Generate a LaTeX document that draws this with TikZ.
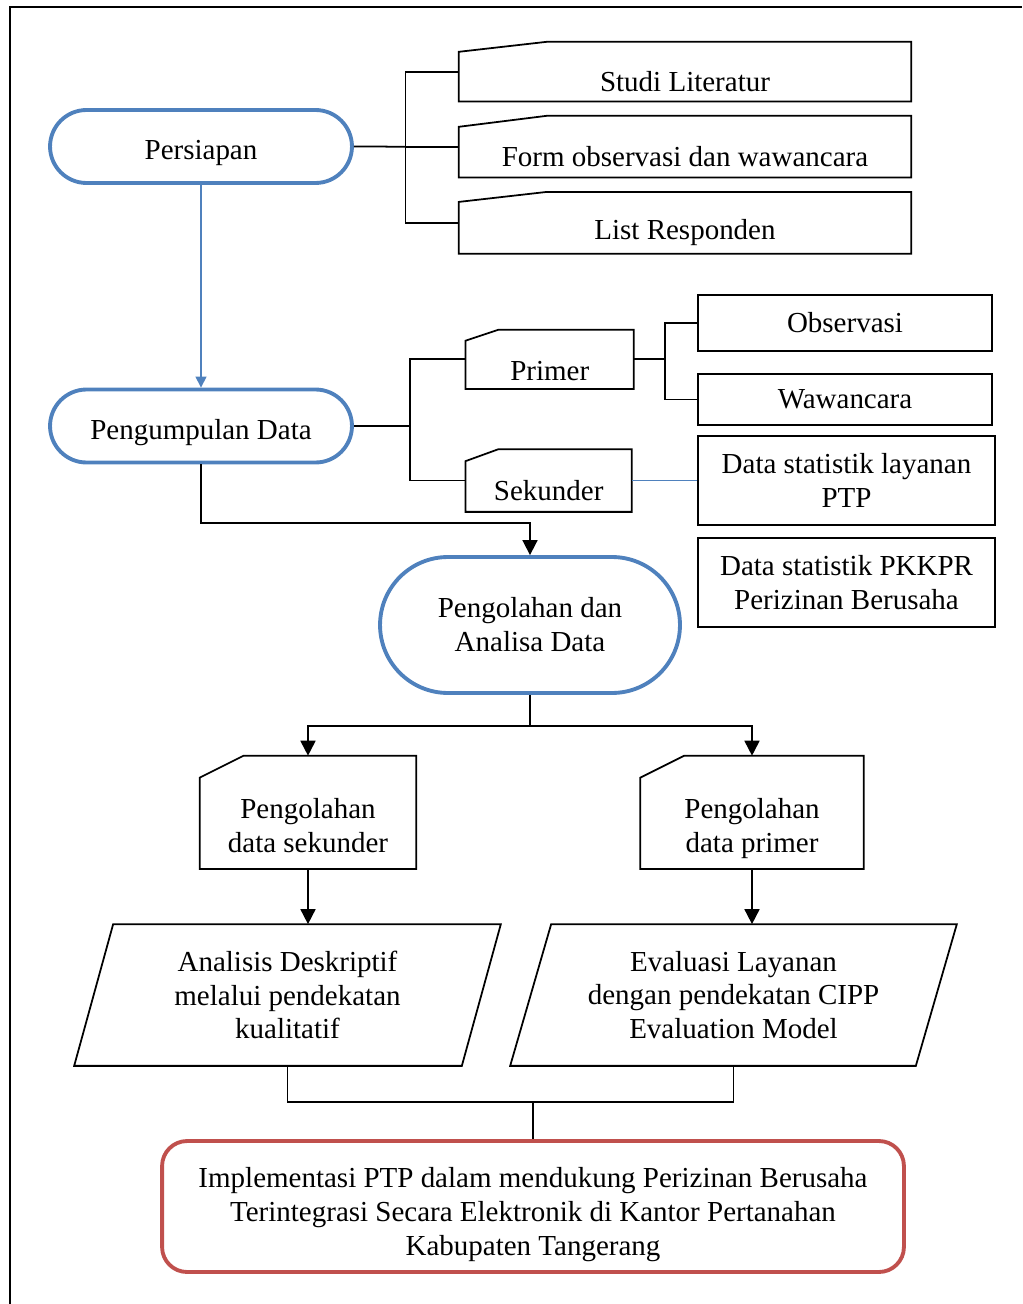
\documentclass[tikz,border=0pt]{standalone}
\usepackage{fontspec}
\setmainfont{Liberation Serif}
\usetikzlibrary{arrows.meta,calc}

\definecolor{ofblue}{HTML}{4F81BD}
\definecolor{ofred}{HTML}{C0504D}

% manual input outline: node, slant dx, drop dy (px)
\newcommand{\maninput}[3]{\draw (#1.south west) -- ($(#1.north west)+(0,#3)$) -- ($(#1.north west)+(#2,0)$) -- (#1.north east) -- (#1.south east) -- cycle;}
% parallelogram outline: node, slant dx (px)
\newcommand{\paragram}[2]{\draw (#1.south west) -- ($(#1.north west)+(#2,0)$) -- (#1.north east) -- ($(#1.south east)+(-#2,0)$) -- cycle;}

\tikzset{
  terminal/.style={draw=ofblue, line width=2.2pt, align=center, rounded corners=#1},
  inbox/.style={inner sep=0pt},
  plainbox/.style={draw, line width=1pt, align=center},
  finalbox/.style={draw=ofred, line width=2.2pt, rounded corners=0.5cm, align=center}
}

\begin{document}
\begin{tikzpicture}[x=0.02cm, y=-0.02cm, >={Triangle[length=3mm,width=3mm]},
    line width=1pt, font=\fontsize{16.5}{19.3}\selectfont]
  \useasboundingbox (0,0) rectangle (1022,1304);
  \draw (10,1304) -- (10,7) -- (1022,7);

  % preparation
  \node[terminal=0.73cm, minimum width=6.04cm, minimum height=1.46cm,
    text height=18.6pt] (persiapan) at (201,146.5) {Persiapan};
  \node[inbox, minimum width=9.02cm, minimum height=1.16cm,
    label={[yshift=-5.7pt]center:Studi Literatur}] (studi) at (685,71.7) {};
  \node[inbox, minimum width=9.02cm, minimum height=1.2cm,
    label={[yshift=-5.7pt]center:Form observasi dan wawancara}] (form) at (685,146.7) {};
  \node[inbox, minimum width=9.02cm, minimum height=1.2cm,
    label={[yshift=-5.7pt]center:List Responden}] (list) at (685,222.8) {};
  \maninput{studi}{88}{10}
  \maninput{form}{88}{11}
  \maninput{list}{88}{10}
  \coordinate (b1) at (405.5,146.7);
  \draw (persiapan.east) -- (b1);
  \draw (studi.west) -| (b1) |- (list.west);
  \draw (b1) -- (form.west);

  % data collection
  \node[terminal=0.73cm, minimum width=6.04cm, minimum height=1.46cm,
    text height=18.6pt] (kumpul) at (201,426) {Pengumpulan Data};
  \draw[->, ofblue, line width=0.8pt, >={Triangle[length=2.2mm,width=2.2mm]}] (persiapan.south) -- (kumpul.north);
  \node[inbox, minimum width=3.33cm, minimum height=1.15cm,
    label={[yshift=-6.5pt]center:Primer}] (primer) at (549.7,359.3) {};
  \node[inbox, minimum width=3.29cm, minimum height=1.22cm,
    label={[yshift=-5.7pt]center:Sekunder}] (sekunder) at (548.7,480.5) {};
  \maninput{primer}{33}{11}
  \maninput{sekunder}{33}{12}
  \coordinate (b2) at (410,426);
  \draw (kumpul.east) -- (b2);
  \draw (primer.west) -| (b2) |- (sekunder.west);

  \node[plainbox, minimum width=5.88cm, minimum height=1.12cm] (obs) at (845,323) {Observasi};
  \node[plainbox, minimum width=5.88cm, minimum height=1.02cm] (waw) at (845,399.5) {Wawancara};
  \node[plainbox, minimum width=5.94cm, minimum height=1.78cm] (dsl) at (846.5,480.5) {Data statistik layanan\\PTP};
  \node[plainbox, minimum width=5.94cm, minimum height=1.78cm] (dsp) at (846.5,582.5) {Data statistik PKKPR\\Perizinan Berusaha};
  \coordinate (b3) at (665,359.3);
  \draw (primer.east) -- (b3);
  \draw (obs.west) -| (b3) |- (waw.west);
  \draw[ofblue] (sekunder.east) -- (dsl.west);

  % processing
  \node[terminal=1.36cm, minimum width=6.0cm, minimum height=2.72cm] (olah) at (530,625) {Pengolahan dan\\Analisa Data};
  \coordinate (j1) at (530,523);
  \draw[->] (kumpul.south) |- (j1) -- (olah.north);

  \node[inbox, minimum width=4.3cm, minimum height=2.23cm,
    label={[align=center, yshift=-7.4pt]center:Pengolahan\\data sekunder}] (olahsek) at (308,812.3) {};
  \node[inbox, minimum width=4.44cm, minimum height=2.23cm,
    label={[align=center, yshift=-9.1pt]center:Pengolahan\\data primer}] (olahprim) at (752,812.3) {};
  \maninput{olahsek}{44}{22}
  \maninput{olahprim}{44}{22}
  \coordinate (j2) at (530,725.7);
  \draw (olah.south) -- (j2);
  \draw[->] (j2) -| (olahsek.north);
  \draw[->] (j2) -| (olahprim.north);

  % analysis
  \node[inbox, minimum width=8.5cm, minimum height=2.8cm, align=center] (ana) at (287.5,995)
    {Analisis Deskriptif\\melalui pendekatan\\kualitatif};
  \node[inbox, minimum width=8.9cm, minimum height=2.8cm, align=center] (eva) at (733.5,995)
    {Evaluasi Layanan\\dengan pendekatan CIPP\\Evaluation Model};
  \paragram{ana}{39}
  \paragram{eva}{41}
  \draw[->] (olahsek.south) -- (olahsek.south |- ana.north);
  \draw[->] (olahprim.south) -- (olahprim.south |- eva.north);

  % result
  \node[finalbox, minimum width=14.84cm, minimum height=2.62cm,
    label={[align=center, yshift=-4.5pt]center:Implementasi PTP dalam mendukung Perizinan Berusaha\\Terintegrasi Secara Elektronik di Kantor Pertanahan\\Kabupaten Tangerang}] (akhir) at (533,1206.5) {};
  \coordinate (j3) at (533,1102);
  \draw (ana.south) |- (j3) -| (eva.south);
  \draw (j3) -- (akhir.north);
\end{tikzpicture}
\end{document}
